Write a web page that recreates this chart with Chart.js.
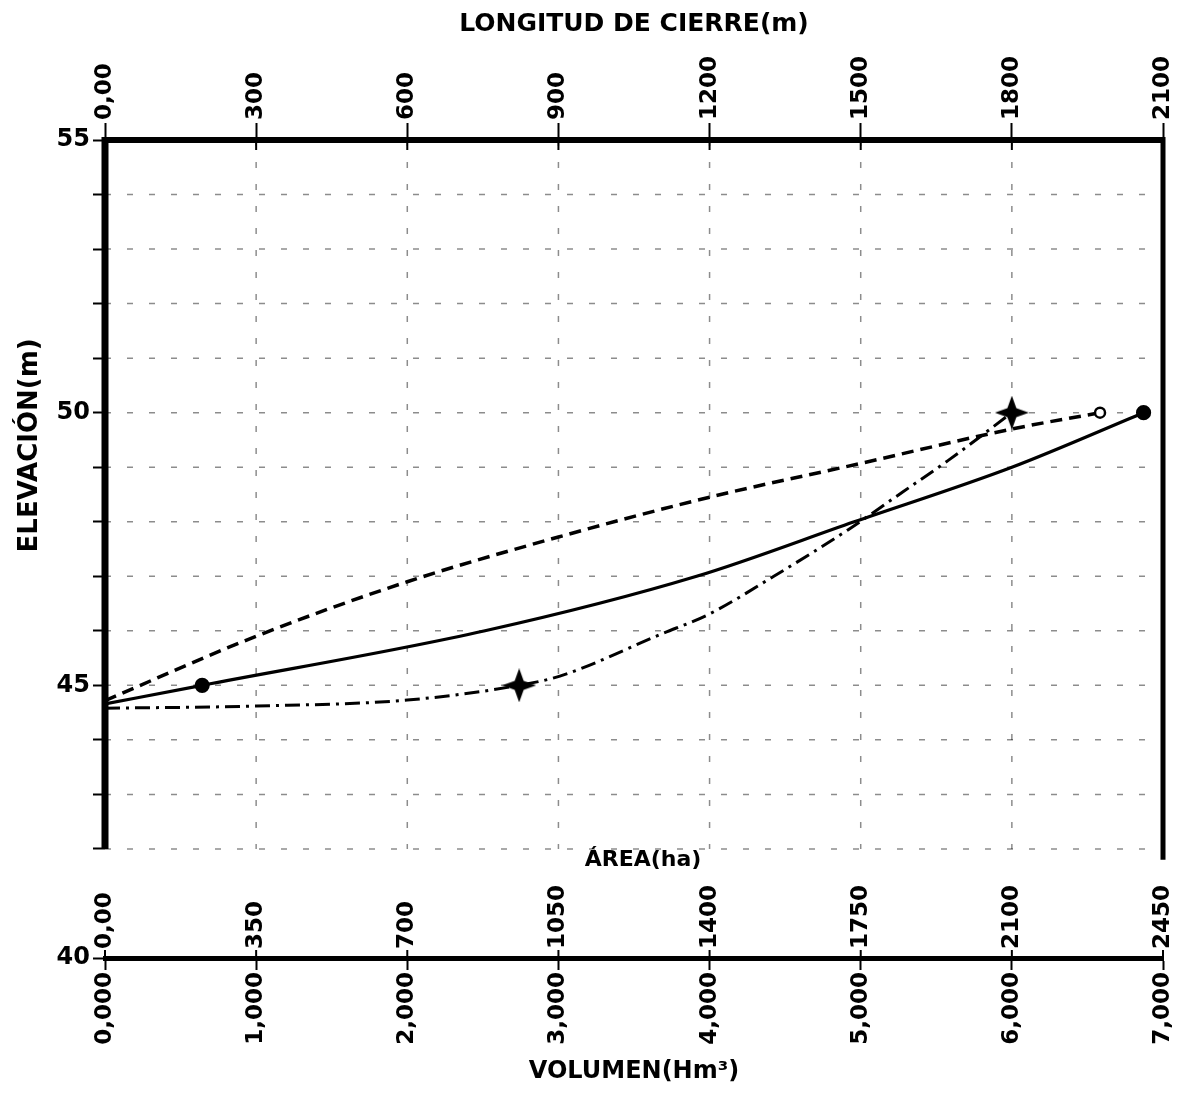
<!DOCTYPE html>
<html>
<head>
<meta charset="utf-8">
<script src="https://cdn.jsdelivr.net/npm/chart.js@4.4.1/dist/chart.umd.min.js"></script>
<style>
html,body{margin:0;padding:0;background:#fff;overflow:hidden}
#wrap{width:1192px;height:1093px;position:relative}
</style>
</head>
<body>
<div id="wrap"><canvas id="c"></canvas></div>
<script>
// ---------- tick values and labels ----------
const elevLabels = [40, 45, 50, 55];
const longTicks  = [0, 300, 600, 900, 1200, 1500, 1800, 2100];
const longLabels = ['0,00', '300', '600', '900', '1200', '1500', '1800', '2100'];
const areaTicks  = [0, 350, 700, 1050, 1400, 1750, 2100, 2450];
const areaLabels = ['0,00', '350', '700', '1050', '1400', '1750', '2100', '2450'];
const volTicks   = [0, 1000, 2000, 3000, 4000, 5000, 6000, 7000];
const volLabels  = ['0,000', '1,000', '2,000', '3,000', '4,000', '5,000', '6,000', '7,000'];
const gridElev   = [42, 43, 44, 45, 46, 47, 48, 49, 50, 51, 52, 53, 54];
const gridLong   = [300, 600, 900, 1200, 1500, 1800];

// ---------- series (elevation in m) ----------
// Área (ha) – solid line
const areaX    = [0, 225, 880, 1370, 1735, 2100, 2405];
const areaElev = [44.66, 45.0, 46.0, 47.0, 48.0, 49.0, 50.0];
// Longitud de cierre (m) – dashed line
const longX    = [0, 300, 600, 900, 1200, 1500, 1800, 1975];
const longElev = [44.72, 45.9, 46.9, 47.72, 48.45, 49.07, 49.7, 50.0];
// Volumen (Hm³) – dash-dot line
const volX     = [0, 1000, 2000, 2740, 3010, 3680, 4000, 4425, 4915, 5280, 5577, 6000];
const volElev  = [44.58, 44.62, 44.73, 45.0, 45.17, 45.94, 46.31, 47.0, 47.85, 48.55, 49.12, 50.0];

const toPts = (xs, ys) => xs.map((x, i) => ({x: x, y: ys[i]}));

function makeStar(size, inner) {
  const c = document.createElement('canvas');
  c.width = size; c.height = size;
  const g = c.getContext('2d');
  const m = size / 2;
  g.fillStyle = '#000';
  g.beginPath();
  g.moveTo(m, 0); g.lineTo(m + inner, m - inner);
  g.lineTo(size, m); g.lineTo(m + inner, m + inner);
  g.lineTo(m, size); g.lineTo(m - inner, m + inner);
  g.lineTo(0, m); g.lineTo(m - inner, m - inner);
  g.closePath(); g.fill();
  g.beginPath(); g.arc(m, m, 6, 0, Math.PI * 2); g.fill();
  return c;
}
const star = makeStar(34, 4.5);

Chart.defaults.font.family = "'DejaVu Sans', sans-serif";
Chart.defaults.color = '#000';

const overlay = {
  id: 'overlay',
  beforeDatasetsDraw(chart) {
    const {ctx, chartArea: ca} = chart;
    const y = chart.scales.y, xt = chart.scales.xTop;
    const yBot = y.getPixelForValue(42);
    ctx.save();
    ctx.strokeStyle = 'rgba(0,0,0,0.45)';
    ctx.lineWidth = 1.5;
    ctx.setLineDash([6, 16]);
    gridElev.forEach(v => {
      const py = y.getPixelForValue(v);
      ctx.beginPath(); ctx.moveTo(ca.left, py); ctx.lineTo(ca.right, py); ctx.stroke();
    });
    gridLong.forEach(v => {
      const px = xt.getPixelForValue(v);
      ctx.beginPath(); ctx.moveTo(px, ca.top); ctx.lineTo(px, yBot); ctx.stroke();
    });
    ctx.restore();
  },
  afterDraw(chart) {
    const {ctx, chartArea: ca} = chart;
    const y = chart.scales.y, xa = chart.scales.xArea, xt = chart.scales.xTop;
    ctx.save();
    ctx.strokeStyle = '#000';
    ctx.lineCap = 'butt';
    // left frame line
    ctx.lineWidth = 7;
    ctx.beginPath(); ctx.moveTo(ca.left, ca.top - 3); ctx.lineTo(ca.left, y.getPixelForValue(42)); ctx.stroke();
    // right frame line
    ctx.lineWidth = 5;
    ctx.beginPath(); ctx.moveTo(ca.right, ca.top - 3); ctx.lineTo(ca.right, y.getPixelForValue(41.8)); ctx.stroke();
    // short inner ticks below the top axis
    ctx.lineWidth = 2;
    longTicks.forEach(v => {
      const px = xt.getPixelForValue(v);
      ctx.beginPath(); ctx.moveTo(px, ca.top); ctx.lineTo(px, ca.top + 10); ctx.stroke();
    });
    // area axis ticks (above the bottom axis) and labels
    ctx.fillStyle = '#000';
    ctx.font = "bold 23px 'DejaVu Sans', sans-serif";
    ctx.textAlign = 'left';
    ctx.textBaseline = 'middle';
    areaTicks.forEach((v, i) => {
      const px = xa.getPixelForValue(v);
      ctx.beginPath(); ctx.moveTo(px, ca.bottom); ctx.lineTo(px, ca.bottom - 8); ctx.stroke();
      ctx.save();
      ctx.translate(px, ca.bottom - 9);
      ctx.rotate(-Math.PI / 2);
      ctx.fillText(areaLabels[i], 0, 0);
      ctx.restore();
    });
    // area axis title
    ctx.font = "bold 22px 'DejaVu Sans', sans-serif";
    ctx.textAlign = 'center';
    ctx.fillText('ÁREA(ha)', (ca.left + ca.right) / 2 + 9, y.getPixelForValue(41.8));
    // y axis title
    ctx.font = "bold 26px 'DejaVu Sans', sans-serif";
    ctx.save();
    ctx.translate(30, y.getPixelForValue(49.4));
    ctx.rotate(-Math.PI / 2);
    ctx.fillText('ELEVACIÓN(m)', 0, 0);
    ctx.restore();
    ctx.restore();
  }
};

const tickFont = {size: 23, weight: 'bold', lineHeight: 1.2};

new Chart(document.getElementById('c'), {
  type: 'scatter',
  data: {
    datasets: [
      {
        label: 'Área',
        data: toPts(areaX, areaElev),
        xAxisID: 'xArea', yAxisID: 'y',
        showLine: true,
        borderColor: '#000', borderWidth: 3.2,
        cubicInterpolationMode: 'monotone',
        pointStyle: 'circle',
        pointRadius: ctx => (ctx.raw && (ctx.raw.y === 45 || ctx.raw.y === 50)) ? 6 : 0,
        pointBackgroundColor: '#000', pointBorderColor: '#000'
      },
      {
        label: 'Longitud de cierre',
        data: toPts(longX, longElev),
        xAxisID: 'xTop', yAxisID: 'y',
        showLine: true,
        borderColor: '#000', borderWidth: 3.5,
        borderDash: [12, 7],
        cubicInterpolationMode: 'monotone',
        pointStyle: 'circle',
        pointRadius: ctx => (ctx.raw && ctx.raw.y === 50) ? 5 : 0,
        pointBackgroundColor: '#fff', pointBorderColor: '#000', pointBorderWidth: 2.5
      },
      {
        label: 'Volumen',
        data: toPts(volX, volElev),
        xAxisID: 'xVol', yAxisID: 'y',
        showLine: true,
        borderColor: '#000', borderWidth: 3,
        borderDash: [15, 6, 3, 6],
        cubicInterpolationMode: 'monotone',
        pointStyle: star,
        pointRadius: ctx => (ctx.raw && (ctx.raw.y === 45 || ctx.raw.y === 50)) ? 15 : 0,
        pointBackgroundColor: '#000', pointBorderColor: '#000'
      }
    ]
  },
  options: {
    responsive: true,
    maintainAspectRatio: false,
    animation: false,
    events: [],
    layout: {padding: {left: 0, right: 29, top: 0, bottom: 0}},
    plugins: {legend: {display: false}, tooltip: {enabled: false}},
    scales: {
      y: {
        type: 'linear', position: 'left', min: 40, max: 55,
        ticks: {
          stepSize: 1, autoSkip: false, padding: 3, color: '#000',
          font: {size: 24, weight: 'bold'},
          callback: v => elevLabels.includes(v) ? String(v) : ''
        },
        grid: {
          drawOnChartArea: false, drawTicks: true, tickLength: 12, tickWidth: 2,
          tickColor: ctx => (ctx.tick && ctx.tick.value === 41) ? 'rgba(0,0,0,0)' : '#000'
        },
        border: {display: false},
        afterFit: s => { s.width = 105; s.paddingTop = 0; s.paddingBottom = 0; }
      },
      xTop: {
        type: 'linear', position: 'top', min: 0, max: 2100,
        afterBuildTicks: s => { s.ticks = longTicks.map(v => ({value: v})); },
        ticks: {
          autoSkip: false, minRotation: 90, maxRotation: 90, padding: 3, color: '#000',
          font: tickFont, labelOffset: 27.6,
          callback: v => longLabels[longTicks.indexOf(v)]
        },
        grid: {drawOnChartArea: false, drawTicks: true, tickLength: 17, tickWidth: 2, tickColor: '#000'},
        border: {display: true, color: '#000', width: 6},
        title: {
          display: true, text: 'LONGITUD DE CIERRE(m)', color: '#000',
          font: {size: 25, weight: 'bold'}, padding: {top: 9, bottom: 0}
        },
        afterFit: s => { s.height = 140; s.paddingLeft = 0; s.paddingRight = 0; }
      },
      xVol: {
        type: 'linear', position: 'bottom', min: 0, max: 7000,
        afterBuildTicks: s => { s.ticks = volTicks.map(v => ({value: v})); },
        ticks: {
          autoSkip: false, minRotation: 90, maxRotation: 90, padding: 2, color: '#000',
          font: tickFont,
          callback: v => volLabels[volTicks.indexOf(v)]
        },
        grid: {drawOnChartArea: false, drawTicks: true, tickLength: 12, tickWidth: 2, tickColor: '#000'},
        border: {display: true, color: '#000', width: 5},
        title: {
          display: true, text: 'VOLUMEN(Hm³)', color: '#000',
          font: {size: 24, weight: 'bold'}, padding: {top: 0, bottom: 7}
        },
        afterFit: s => { s.height = 135; s.paddingLeft = 0; s.paddingRight = 0; }
      },
      xArea: {
        type: 'linear', position: 'bottom', min: 0, max: 2450, display: false
      }
    }
  },
  plugins: [overlay]
});
</script>
</body>
</html>
